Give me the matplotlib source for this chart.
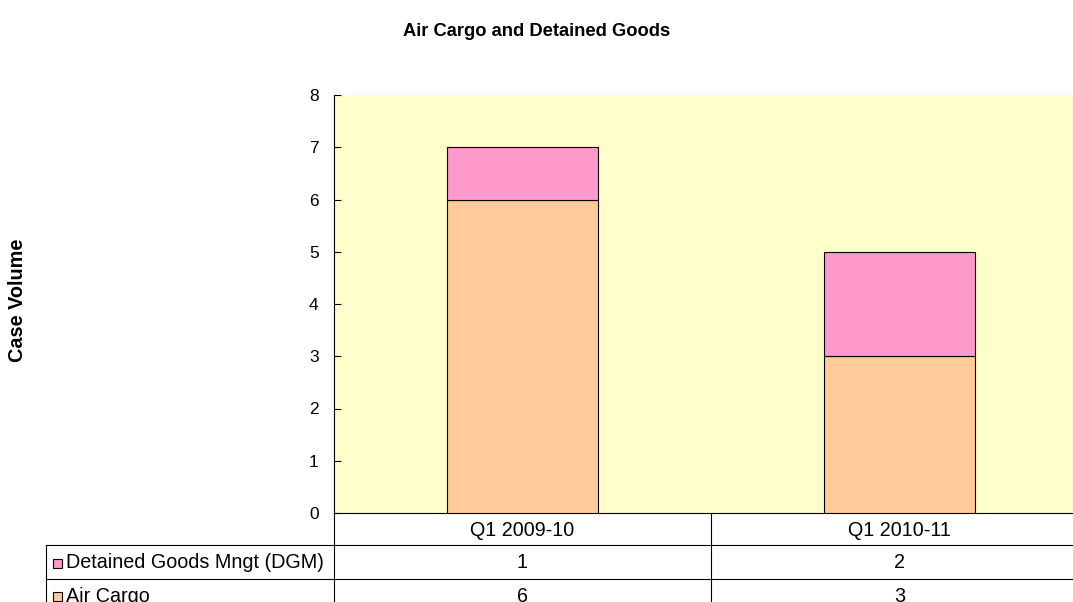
import matplotlib
matplotlib.use("Agg")
import matplotlib.pyplot as plt
import matplotlib.transforms as mtransforms
from matplotlib.patches import Rectangle
from matplotlib.lines import Line2D

plt.rcParams['font.family'] = ['Liberation Sans', 'DejaVu Sans']

categories = ["Q1 2009-10", "Q1 2010-11"]
air_cargo = [6, 3]
dgm = [1, 2]
series_names = ["Detained Goods Mngt (DGM)", "Air Cargo"]
title = "Air Cargo and Detained Goods"
ylabel = "Case Volume"

W, H = 1073, 602
fig = plt.figure(figsize=(W / 100, H / 100), dpi=100)

def fx(px):
    return px / W

def fy(py):
    return 1 - py / H

ax_left, ax_right, ax_top, ax_bottom = 334, 1088, 95, 513
ax = fig.add_axes([fx(ax_left), fy(ax_bottom), fx(ax_right - ax_left), (ax_bottom - ax_top) / H])
ax.set_facecolor('#FFFFCC')

x = list(range(len(categories)))
c_air = '#FFCC99'
c_dgm = '#FF99CC'
ax.bar(x, air_cargo, width=0.4, color=c_air, edgecolor='black', linewidth=0.8, zorder=3)
ax.bar(x, dgm, bottom=air_cargo, width=0.4, color=c_dgm, edgecolor='black', linewidth=0.8, zorder=3)

ax.set_xlim(-0.5, len(categories) - 0.5)
ax.set_ylim(0, 8)
ax.set_yticks(range(0, 9))
ax.tick_params(axis='y', direction='in', length=5, width=0.8, labelsize=12.5, pad=11)
ax.set_xticks([])
for s in ['top', 'right']:
    ax.spines[s].set_visible(False)
ax.spines['left'].set_linewidth(0.8)
ax.spines['bottom'].set_linewidth(0.8)

fig.text(0.5, fy(31), title, ha='center', va='center', fontsize=13.2, fontweight='bold')
fig.text(fx(18), fy(300), ylabel, ha='center', va='center', rotation=90, fontsize=14.3, fontweight='bold')

# Data table below the axes
blend = mtransforms.blended_transform_factory(ax.transData, fig.transFigure)
lc = 'black'
lw = 0.8
for px in [ax_left, 711]:
    fig.add_artist(Line2D([fx(px), fx(px)], [fy(513), 0], color=lc, lw=lw))
fig.add_artist(Line2D([fx(46), fx(46)], [fy(545), 0], color=lc, lw=lw))
for py in [545, 579]:
    fig.add_artist(Line2D([fx(46), 1], [fy(py), fy(py)], color=lc, lw=lw))

text_rows = [530, 563, 596]
fs = 14.2
for i, cat in enumerate(categories):
    fig.text(i, fy(text_rows[0]), cat, transform=blend, ha='center', va='center', fontsize=fs)
    fig.text(i, fy(text_rows[1]), str(dgm[i]), transform=blend, ha='center', va='center', fontsize=fs)
    fig.text(i, fy(text_rows[2]), str(air_cargo[i]), transform=blend, ha='center', va='center', fontsize=fs)

for name, col, py in zip(series_names, [c_dgm, c_air], text_rows[1:]):
    sq = 9
    fig.add_artist(Rectangle((fx(53), fy(py + sq / 2)), sq / W, sq / H, transform=fig.transFigure,
                             facecolor=col, edgecolor='black', lw=0.8))
    fig.text(fx(66), fy(py), name, ha='left', va='center', fontsize=fs)

fig.savefig('out.png', dpi=100)
